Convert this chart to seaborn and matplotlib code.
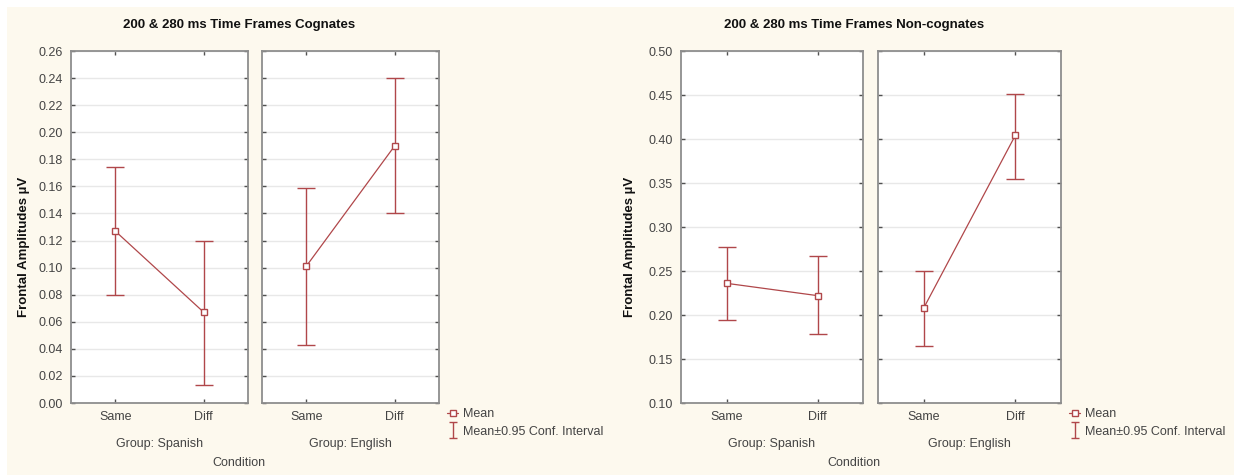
import matplotlib
matplotlib.use("Agg")
import matplotlib.pyplot as plt
from matplotlib.lines import Line2D
from matplotlib.patches import Rectangle
from matplotlib.path import Path
import seaborn as sns
import pandas as pd
import numpy as np

# ---------------- data ----------------
conditions = ["Same", "Diff"]
groups = ["Group: Spanish", "Group: English"]

cog_spanish_mean = [0.127, 0.067]
cog_spanish_lo = [0.080, 0.013]
cog_spanish_hi = [0.174, 0.120]
cog_english_mean = [0.101, 0.190]
cog_english_lo = [0.043, 0.140]
cog_english_hi = [0.159, 0.240]

non_spanish_mean = [0.236, 0.222]
non_spanish_lo = [0.194, 0.178]
non_spanish_hi = [0.277, 0.267]
non_english_mean = [0.208, 0.404]
non_english_lo = [0.165, 0.355]
non_english_hi = [0.250, 0.451]

cog_yticks = [0.00, 0.02, 0.04, 0.06, 0.08, 0.10, 0.12, 0.14, 0.16, 0.18, 0.20, 0.22, 0.24, 0.26]
non_yticks = [0.10, 0.15, 0.20, 0.25, 0.30, 0.35, 0.40, 0.45, 0.50]

title_cog = "200 & 280 ms Time Frames Cognates"
title_non = "200 & 280 ms Time Frames Non-cognates"
ylabel = "Frontal Amplitudes µV"
xlabel = "Condition"
legend_labels = ["Mean", "Mean±0.95 Conf. Interval"]

# ---------------- style ----------------
sns.set_style("white")
plt.rcParams["font.family"] = ["Liberation Sans", "DejaVu Sans"]

W, H = 1234, 475
BG = "#FDF9EE"
RED = "#B0474A"
GRID = "#E8E8E8"
SPINE = "#8E8E8E"
TXT = "#444444"

fig = plt.figure(figsize=(W / 100, H / 100), dpi=100, facecolor=BG)

# white margins of the original screenshot
fig.patches.append(Rectangle((0, 1 - 7 / H), 1, 7 / H, transform=fig.transFigure,
                             facecolor="white", edgecolor="none", zorder=-5))
fig.patches.append(Rectangle((0, 0), 7 / W, 1, transform=fig.transFigure,
                             facecolor="white", edgecolor="none", zorder=-5))


def px_axes(x0, x1, y0, y1):
    return fig.add_axes([x0 / W, 1 - y1 / H, (x1 - x0) / W, (y1 - y0) / H])


def draw_panel(ax, means, lo, hi, yticks, show_ylabels):
    df = pd.DataFrame({"Condition": conditions, "Mean": means})
    pos = np.arange(len(conditions))
    means_a = np.array(means)
    yerr = [means_a - np.array(lo), np.array(hi) - means_a]
    ax.errorbar(pos, means_a, yerr=yerr, fmt="none", ecolor=RED,
                elinewidth=1.0, capsize=6.5, capthick=1.0, zorder=3)
    sns.pointplot(data=df, x="Condition", y="Mean", order=conditions,
                  color=RED, markers="s", linestyles="-", errorbar=None,
                  markersize=4.5, linewidth=0.9, ax=ax,
                  markerfacecolor="white", markeredgecolor=RED,
                  markeredgewidth=1.0, zorder=4)
    ax.set_xlim(-0.5, 1.5)
    ax.set_ylim(yticks[0], yticks[-1])
    ax.set_yticks(yticks)
    ax.set_yticklabels([f"{t:.2f}" for t in yticks])
    ax.set_facecolor("white")
    ax.grid(axis="y", color=GRID, linewidth=1.0)
    ax.grid(axis="x", visible=False)
    ax.set_axisbelow(True)
    ax.tick_params(axis="both", direction="in", length=3, width=1,
                   color="#505050", top=True, right=True, left=True, bottom=True,
                   labelsize=9, labelcolor=TXT)
    ax.tick_params(axis="x", pad=6)
    ax.tick_params(axis="y", pad=6)
    if not show_ylabels:
        ax.tick_params(axis="y", labelleft=False)
    for s in ax.spines.values():
        s.set_color(SPINE)
        s.set_linewidth(1.3)
    ax.set_xlabel("")
    ax.set_ylabel("")


y_top, y_bot = 51, 403

# Left chart (cognates)
axL1 = px_axes(71, 248, y_top, y_bot)
axL2 = px_axes(262, 439, y_top, y_bot)
draw_panel(axL1, cog_spanish_mean, cog_spanish_lo, cog_spanish_hi, cog_yticks, True)
draw_panel(axL2, cog_english_mean, cog_english_lo, cog_english_hi, cog_yticks, False)

# Right chart (non-cognates)
axR1 = px_axes(681, 863, y_top, y_bot)
axR2 = px_axes(878, 1061, y_top, y_bot)
draw_panel(axR1, non_spanish_mean, non_spanish_lo, non_spanish_hi, non_yticks, True)
draw_panel(axR2, non_english_mean, non_english_lo, non_english_hi, non_yticks, False)


def ftext(x, y, s, **kw):
    fig.text(x / W, 1 - y / H, s, ha="center", va="center", **kw)


for (a1, a2, tcx, ylx, title) in [
    ((71, 248), (262, 439), 239, 24, title_cog),
    ((681, 863), (878, 1061), 854, 630, title_non),
]:
    ftext(tcx, 25, title, fontsize=9.5, fontweight="bold", color="#111111")
    ftext(ylx, 247, ylabel, fontsize=9.5, fontweight="bold", color="#111111",
          rotation=90)
    ftext((a1[0] + a1[1]) / 2, 444, groups[0], fontsize=9, color=TXT)
    ftext((a2[0] + a2[1]) / 2, 444, groups[1], fontsize=9, color=TXT)
    ftext(tcx, 463, xlabel, fontsize=9, color=TXT)

# legend handles
mean_handle = Line2D([], [], color=RED, marker="s", markersize=4.5,
                     markerfacecolor="white", markeredgecolor=RED, linewidth=0.9)
ibeam = Path([(-0.5, -1), (0.5, -1), (0, -1), (0, 1), (-0.5, 1), (0.5, 1)],
             [Path.MOVETO, Path.LINETO, Path.MOVETO, Path.LINETO, Path.MOVETO, Path.LINETO])
ci_handle = Line2D([], [], linestyle="none", marker=ibeam, markersize=11,
                   markerfacecolor="none", markeredgecolor=RED, markeredgewidth=1.0)
for lx in (447, 1069):
    fig.legend(handles=[mean_handle, ci_handle], labels=legend_labels,
               loc="upper left", bbox_to_anchor=(lx / W, 1 - 408 / H),
               frameon=False, fontsize=9, labelcolor=TXT, handlelength=0.9,
               handletextpad=0.35, borderpad=0, borderaxespad=0,
               labelspacing=0.45)

fig.savefig("out.png", dpi=100, facecolor=BG)
